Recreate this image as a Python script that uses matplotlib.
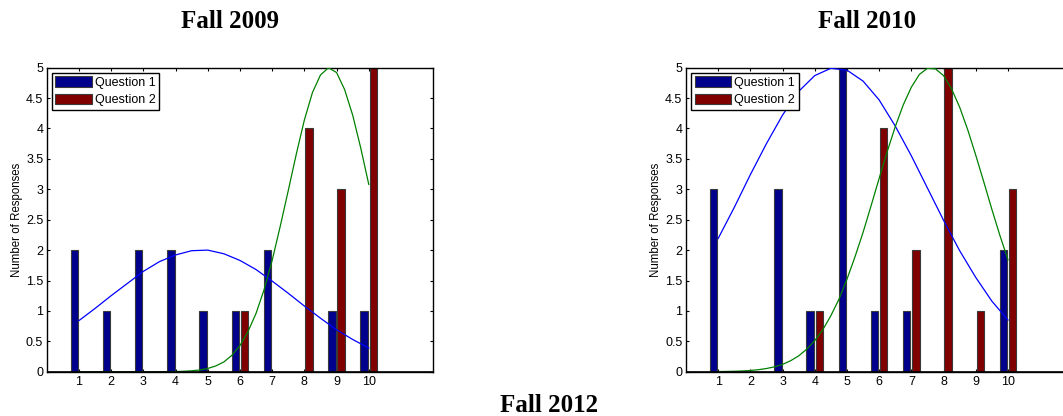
import matplotlib
matplotlib.use("Agg")
import matplotlib.pyplot as plt

# ---------------- data ----------------
categories = [1, 2, 3, 4, 5, 6, 7, 8, 9, 10]

q1_2009 = [2, 1, 2, 2, 1, 1, 2, 0, 1, 1]
q2_2009 = [0, 0, 0, 0, 0, 1, 0, 4, 3, 5]

q1_2010 = [3, 0, 3, 1, 5, 1, 1, 0, 0, 2]
q2_2010 = [0, 0, 0, 1, 0, 4, 2, 5, 1, 3]

# fitted curves
fit_x_half = [1.0, 1.5, 2.0, 2.5, 3.0, 3.5, 4.0, 4.5, 5.0, 5.5,
              6.0, 6.5, 7.0, 7.5, 8.0, 8.5, 9.0, 9.5, 10.0]
fit_x_quarter = [1.0, 1.25, 1.5, 1.75, 2.0, 2.25, 2.5, 2.75, 3.0, 3.25,
                 3.5, 3.75, 4.0, 4.25, 4.5, 4.75, 5.0, 5.25, 5.5, 5.75,
                 6.0, 6.25, 6.5, 6.75, 7.0, 7.25, 7.5, 7.75, 8.0, 8.25,
                 8.5, 8.75, 9.0, 9.25, 9.5, 9.75, 10.0]

fit_q1_2009 = [0.84, 1.04, 1.25, 1.45, 1.65, 1.81, 1.92, 1.99, 2.00, 1.94,
               1.83, 1.68, 1.49, 1.29, 1.08, 0.88, 0.69, 0.53, 0.39]
fit_q2_2009 = [0.0, 0.0, 0.0, 0.0, 0.0, 0.0, 0.0, 0.0, 0.0, 0.0,
               0.0, 0.001, 0.003, 0.007, 0.015, 0.028, 0.053, 0.095, 0.16, 0.27,
               0.43, 0.66, 0.96, 1.35, 1.83, 2.39, 2.98, 3.58, 4.14, 4.59,
               4.88, 5.00, 4.92, 4.64, 4.22, 3.68, 3.08]

fit_q1_2010 = [2.19, 2.70, 3.24, 3.75, 4.22, 4.61, 4.87, 4.99, 4.96, 4.78,
               4.47, 4.04, 3.55, 3.02, 2.49, 1.99, 1.55, 1.16, 0.85]
fit_q2_2010 = [0.002, 0.004, 0.007, 0.012, 0.020, 0.033, 0.052, 0.080, 0.12, 0.18,
               0.26, 0.37, 0.51, 0.69, 0.92, 1.19, 1.52, 1.89, 2.29, 2.73,
               3.18, 3.62, 4.03, 4.39, 4.68, 4.89, 4.99, 4.98, 4.87, 4.65,
               4.35, 3.98, 3.56, 3.12, 2.67, 2.24, 1.84]

y_ticks = [0, 0.5, 1, 1.5, 2, 2.5, 3, 3.5, 4, 4.5, 5]
y_tick_labels = ["0", "0.5", "1", "1.5", "2", "2.5", "3", "3.5", "4", "4.5", "5"]
series_labels = ["Question 1", "Question 2"]
titles = ["Fall 2009", "Fall 2010", "Fall 2012"]

# ---------------- style ----------------
W, H = 1063, 416
fig = plt.figure(figsize=(W / 100, H / 100), dpi=100)
plt.rcParams["font.family"] = ["Liberation Sans", "DejaVu Sans"]

col_q1 = "#00008C"
col_q2 = "#800000"
bar_w = 0.229
off = 0.143

ax_w = 386.5 / W
ax_h = (371.7 - 67.7) / H
ax_b = (H - 371.7) / H

def draw(ax, q1, q2, f1, f2, x1, x2):
    xl = [c - off for c in categories]
    xr = [c + off for c in categories]
    ax.bar(xl, q1, width=bar_w, color=col_q1, edgecolor="#3a3a3a",
           linewidth=0.8, label=series_labels[0], zorder=2)
    ax.bar(xr, q2, width=bar_w, color=col_q2, edgecolor="#3a3a3a",
           linewidth=0.8, label=series_labels[1], zorder=2)
    ax.plot(x1, f1, color="#0000FF", linewidth=0.9, zorder=3)
    ax.plot(x2, f2, color="#008000", linewidth=0.9, zorder=3)
    ax.axhline(0, color="black", linewidth=1.2, zorder=4)
    ax.set_xlim(0, 12)
    ax.set_ylim(0, 5)
    ax.set_xticks(categories)
    ax.set_xticklabels([str(c) for c in categories])
    ax.set_yticks(y_ticks)
    ax.set_yticklabels(y_tick_labels)
    ax.tick_params(axis="both", direction="in", length=2.3, width=0.8,
                   top=True, right=True, labelsize=9, colors="black")
    ax.tick_params(axis="x", pad=3.0)
    ax.tick_params(axis="y", pad=2.5)
    for s in ax.spines.values():
        s.set_linewidth(1.0)
        s.set_color("black")
    ax.set_ylabel("Number of Responses", fontsize=8.3, labelpad=2)
    leg = ax.legend(loc="upper left", fontsize=9, frameon=True,
                    fancybox=False, framealpha=1, edgecolor="black",
                    handlelength=2.9, handleheight=0.96, labelspacing=0.35,
                    borderpad=0.3, handletextpad=0.25, borderaxespad=0.4)
    leg.get_frame().set_linewidth(1.0)

ax1 = fig.add_axes([46.7 / W, ax_b, ax_w, ax_h])
draw(ax1, q1_2009, q2_2009, fit_q1_2009, fit_q2_2009, fit_x_half, fit_x_quarter)

ax2 = fig.add_axes([685.9 / W, ax_b, ax_w, ax_h])
draw(ax2, q1_2010, q2_2010, fit_q1_2010, fit_q2_2010, fit_x_half, fit_x_quarter)

title_font = dict(family=["Liberation Serif", "DejaVu Serif"],
                  fontweight="bold", fontsize=18, ha="center", va="center")
fig.text(230 / W, 1 - 22 / H, titles[0], **title_font)
fig.text(867 / W, 1 - 22 / H, titles[1], **title_font)
fig.text(549 / W, 1 - 405.5 / H, titles[2], **title_font)

fig.savefig("out.png", dpi=100)
